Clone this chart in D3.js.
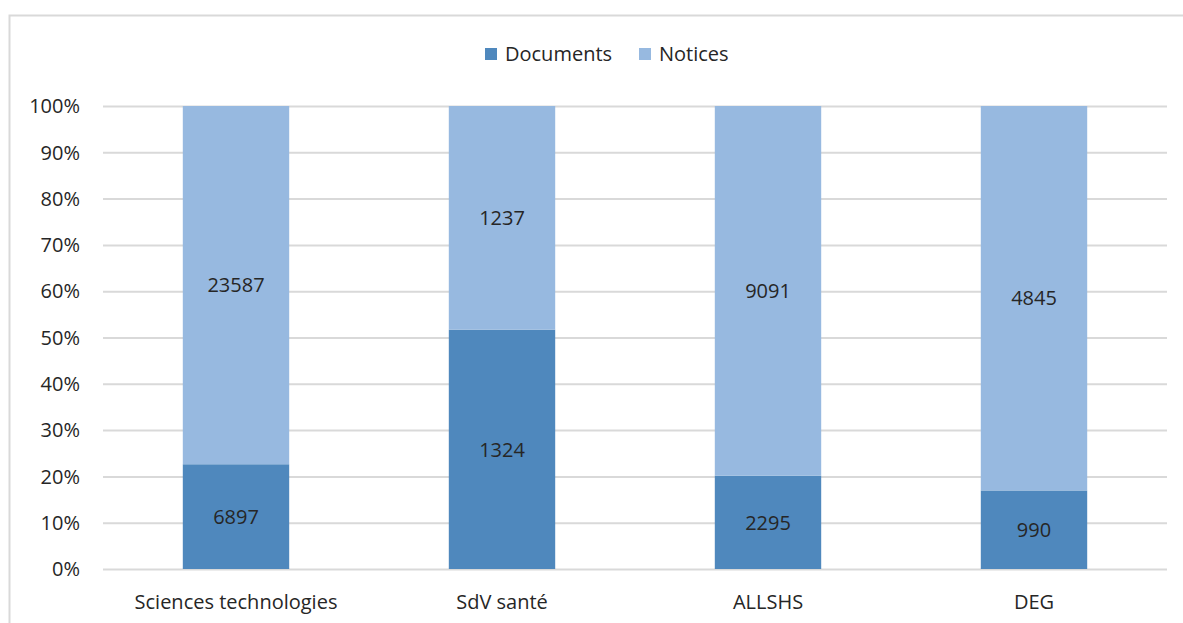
<!DOCTYPE html>
<meta charset="utf-8">
<style>
body { margin: 0; background: #fff; }
text { font-family: "Open Sans", sans-serif; fill: #262626; font-size: 20px; }
.grid line { stroke: #d9d9d9; stroke-width: 2; }
.grid path { display: none; }
</style>
<svg width="1183" height="623"></svg>
<script src="https://d3js.org/d3.v7.min.js"></script>
<script>

var categories = ["Sciences technologies", "SdV santé", "ALLSHS", "DEG"];
var documents = [6897, 1324, 2295, 990];
var notices = [23587, 1237, 9091, 4845];
var seriesNames = ["Documents", "Notices"];
var colors = ["#4f88bd", "#97b9e0"];
var yTicks = [0, 0.1, 0.2, 0.3, 0.4, 0.5, 0.6, 0.7, 0.8, 0.9, 1];

var svg = d3.select("svg"),
    margin = {top: 106, right: 16, bottom: 54, left: 103},
    width = +svg.attr("width") - margin.left - margin.right,
    height = +svg.attr("height") - margin.top - margin.bottom;

// outer frame
svg.append("rect")
    .attr("x", 9.5).attr("y", 15.5)
    .attr("width", 1300).attr("height", 700)
    .attr("fill", "none").attr("stroke", "#d9d9d9").attr("stroke-width", 2);

var data = categories.map(function(c, i) {
  var t = documents[i] + notices[i];
  return {cat: c, Documents: documents[i] / t, Notices: notices[i] / t,
          raw: {Documents: documents[i], Notices: notices[i]}};
});

var x = d3.scaleBand().domain(categories).range([0, width]).paddingInner(0.6).paddingOuter(0.3),
    y = d3.scaleLinear().domain([0, 1]).range([height, 0]);

var g = svg.append("g")
    .attr("transform", "translate(" + margin.left + "," + margin.top + ")");

g.append("g")
    .attr("class", "grid")
    .call(d3.axisLeft(y).tickValues(yTicks).tickSize(-width).tickFormat(""))
  .selectAll(".tick line").attr("x1", 0);

g.selectAll(".ylab")
  .data(yTicks)
  .enter().append("text")
    .attr("x", -23)
    .attr("y", function(d) { return y(d); })
    .attr("dy", "0.36em")
    .attr("text-anchor", "end")
    .text(function(d) { return d3.format(".0%")(d); });

var stack = d3.stack().keys(seriesNames)(data);

var layer = g.selectAll(".layer")
  .data(stack)
  .enter().append("g")
    .attr("fill", function(d, i) { return colors[i]; });

layer.selectAll("rect")
  .data(function(d) { return d; })
  .enter().append("rect")
    .attr("x", function(d) { return x(d.data.cat); })
    .attr("y", function(d) { return y(d[1]); })
    .attr("width", x.bandwidth())
    .attr("height", function(d) { return y(d[0]) - y(d[1]); });

layer.each(function(s) {
  d3.select(this).selectAll(".val")
    .data(s)
    .enter().append("text")
      .attr("x", function(d) { return x(d.data.cat) + x.bandwidth() / 2; })
      .attr("y", function(d) { return (y(d[0]) + y(d[1])) / 2; })
      .attr("dy", "0.36em")
      .attr("text-anchor", "middle")
      .text(function(d) { return d.data.raw[s.key]; });
});

g.selectAll(".xlab")
  .data(categories)
  .enter().append("text")
    .attr("x", function(d) { return x(d) + x.bandwidth() / 2; })
    .attr("y", height + 33)
    .attr("dy", "0.36em")
    .attr("text-anchor", "middle")
    .text(function(d) { return d; });

// legend
var legX = [485, 639];
var legend = svg.selectAll(".leg")
  .data(seriesNames)
  .enter().append("g")
    .attr("transform", function(d, i) { return "translate(" + legX[i] + ",48)"; });
legend.append("rect")
    .attr("width", 12).attr("height", 12)
    .attr("fill", function(d, i) { return colors[i]; });
legend.append("text")
    .attr("x", 20).attr("y", 6)
    .attr("dy", "0.36em")
    .text(function(d) { return d; });

</script>
